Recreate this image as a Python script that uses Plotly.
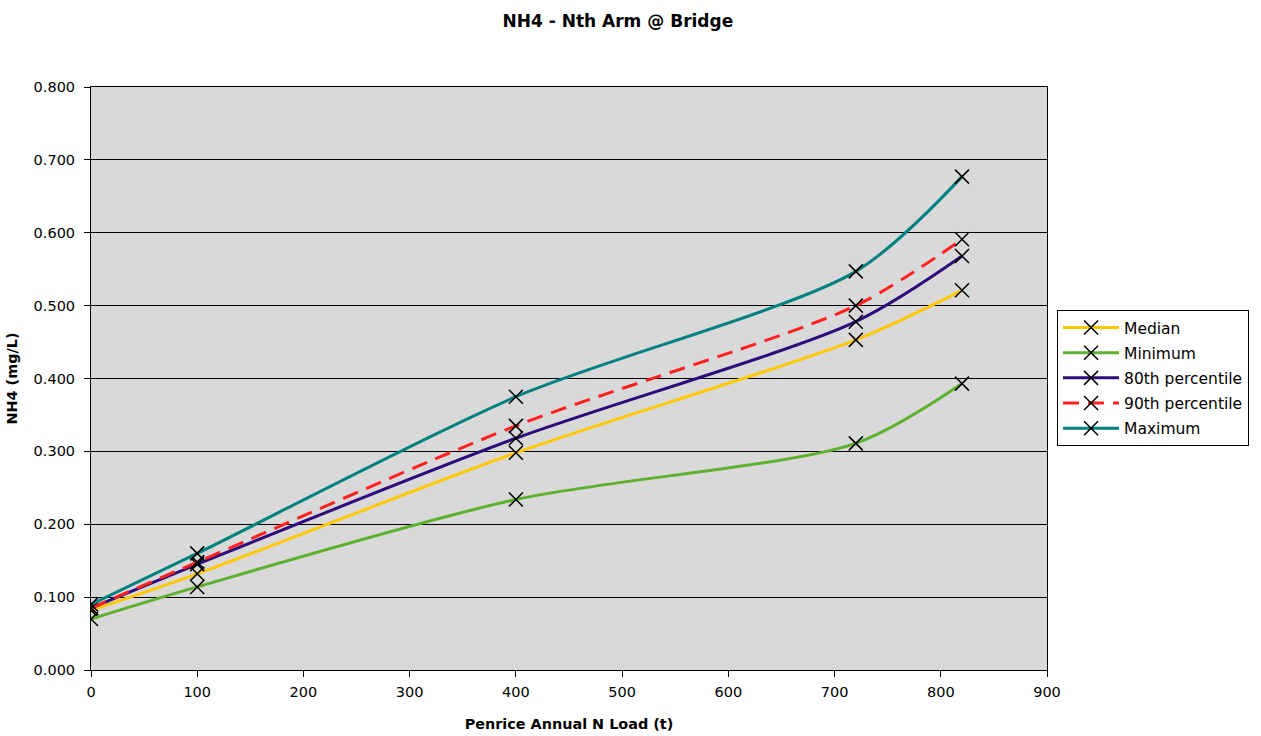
import plotly.graph_objects as go

load = [0, 100, 400, 720, 820]
median = [0.082, 0.132, 0.298, 0.453, 0.521]
minimum = [0.070, 0.114, 0.234, 0.311, 0.393]
p80 = [0.085, 0.145, 0.318, 0.478, 0.568]
p90 = [0.085, 0.148, 0.335, 0.500, 0.591]
maximum = [0.090, 0.160, 0.375, 0.547, 0.677]

series = [
    ("Median", median, "#FFC800", "solid"),
    ("Minimum", minimum, "#5DB12E", "solid"),
    ("80th percentile", p80, "#2E0A7A", "solid"),
    ("90th percentile", p90, "#FF2020", "16px,9px"),
    ("Maximum", maximum, "#008080", "solid"),
]

font_family = "DejaVu Sans, Verdana, sans-serif"

fig = go.Figure()
for i, (name, vals, color, dash) in enumerate(series):
    fig.add_trace(go.Scatter(
        x=load, y=vals, name=name, mode="lines+markers", legendgroup=f"g{i}",
        line=dict(color=color, width=3, dash=dash, shape="spline", smoothing=0.8),
        marker=dict(symbol="x-thin", size=14, color="black",
                    line=dict(color="black", width=1.5)),
    ))

fig.update_layout(
    width=1261, height=736,
    margin=dict(l=91, r=214, t=87, b=66),
    paper_bgcolor="white",
    plot_bgcolor="#D9D9D9",
    font=dict(family=font_family, size=14.5, color="black"),
    title=dict(text="<b>NH4 - Nth Arm @ Bridge</b>", x=0.49, xanchor="center",
               y=0.972, yanchor="middle", font=dict(size=17)),
    showlegend=True,
    legend=dict(x=1.0105, y=0.6175, xanchor="left", yanchor="top",
                bordercolor="black", borderwidth=1, bgcolor="white",
                font=dict(size=15.5), tracegroupgap=2, itemwidth=56),
    xaxis=dict(range=[0, 900], dtick=100, tick0=0, showgrid=False,
               ticks="outside", ticklen=6, tickcolor="black",
               showline=True, linecolor="black", linewidth=1, mirror=True,
               zeroline=False, ticklabelstandoff=3, automargin=False,
               title=dict(text="<b>Penrice Annual N Load (t)</b>", standoff=19,
                          font=dict(size=14.4))),
    yaxis=dict(range=[0, 0.8], dtick=0.1, tick0=0, tickformat=".3f",
               showgrid=True, gridcolor="black", gridwidth=1,
               ticks="outside", ticklen=6, tickcolor="black",
               showline=True, linecolor="black", linewidth=1, mirror=True,
               zeroline=False, ticklabelstandoff=6, automargin=False,
               title=dict(text="<b>NH4 (mg/L)</b>", standoff=12,
                          font=dict(size=14.4))),
)

fig.write_html("out.html")
